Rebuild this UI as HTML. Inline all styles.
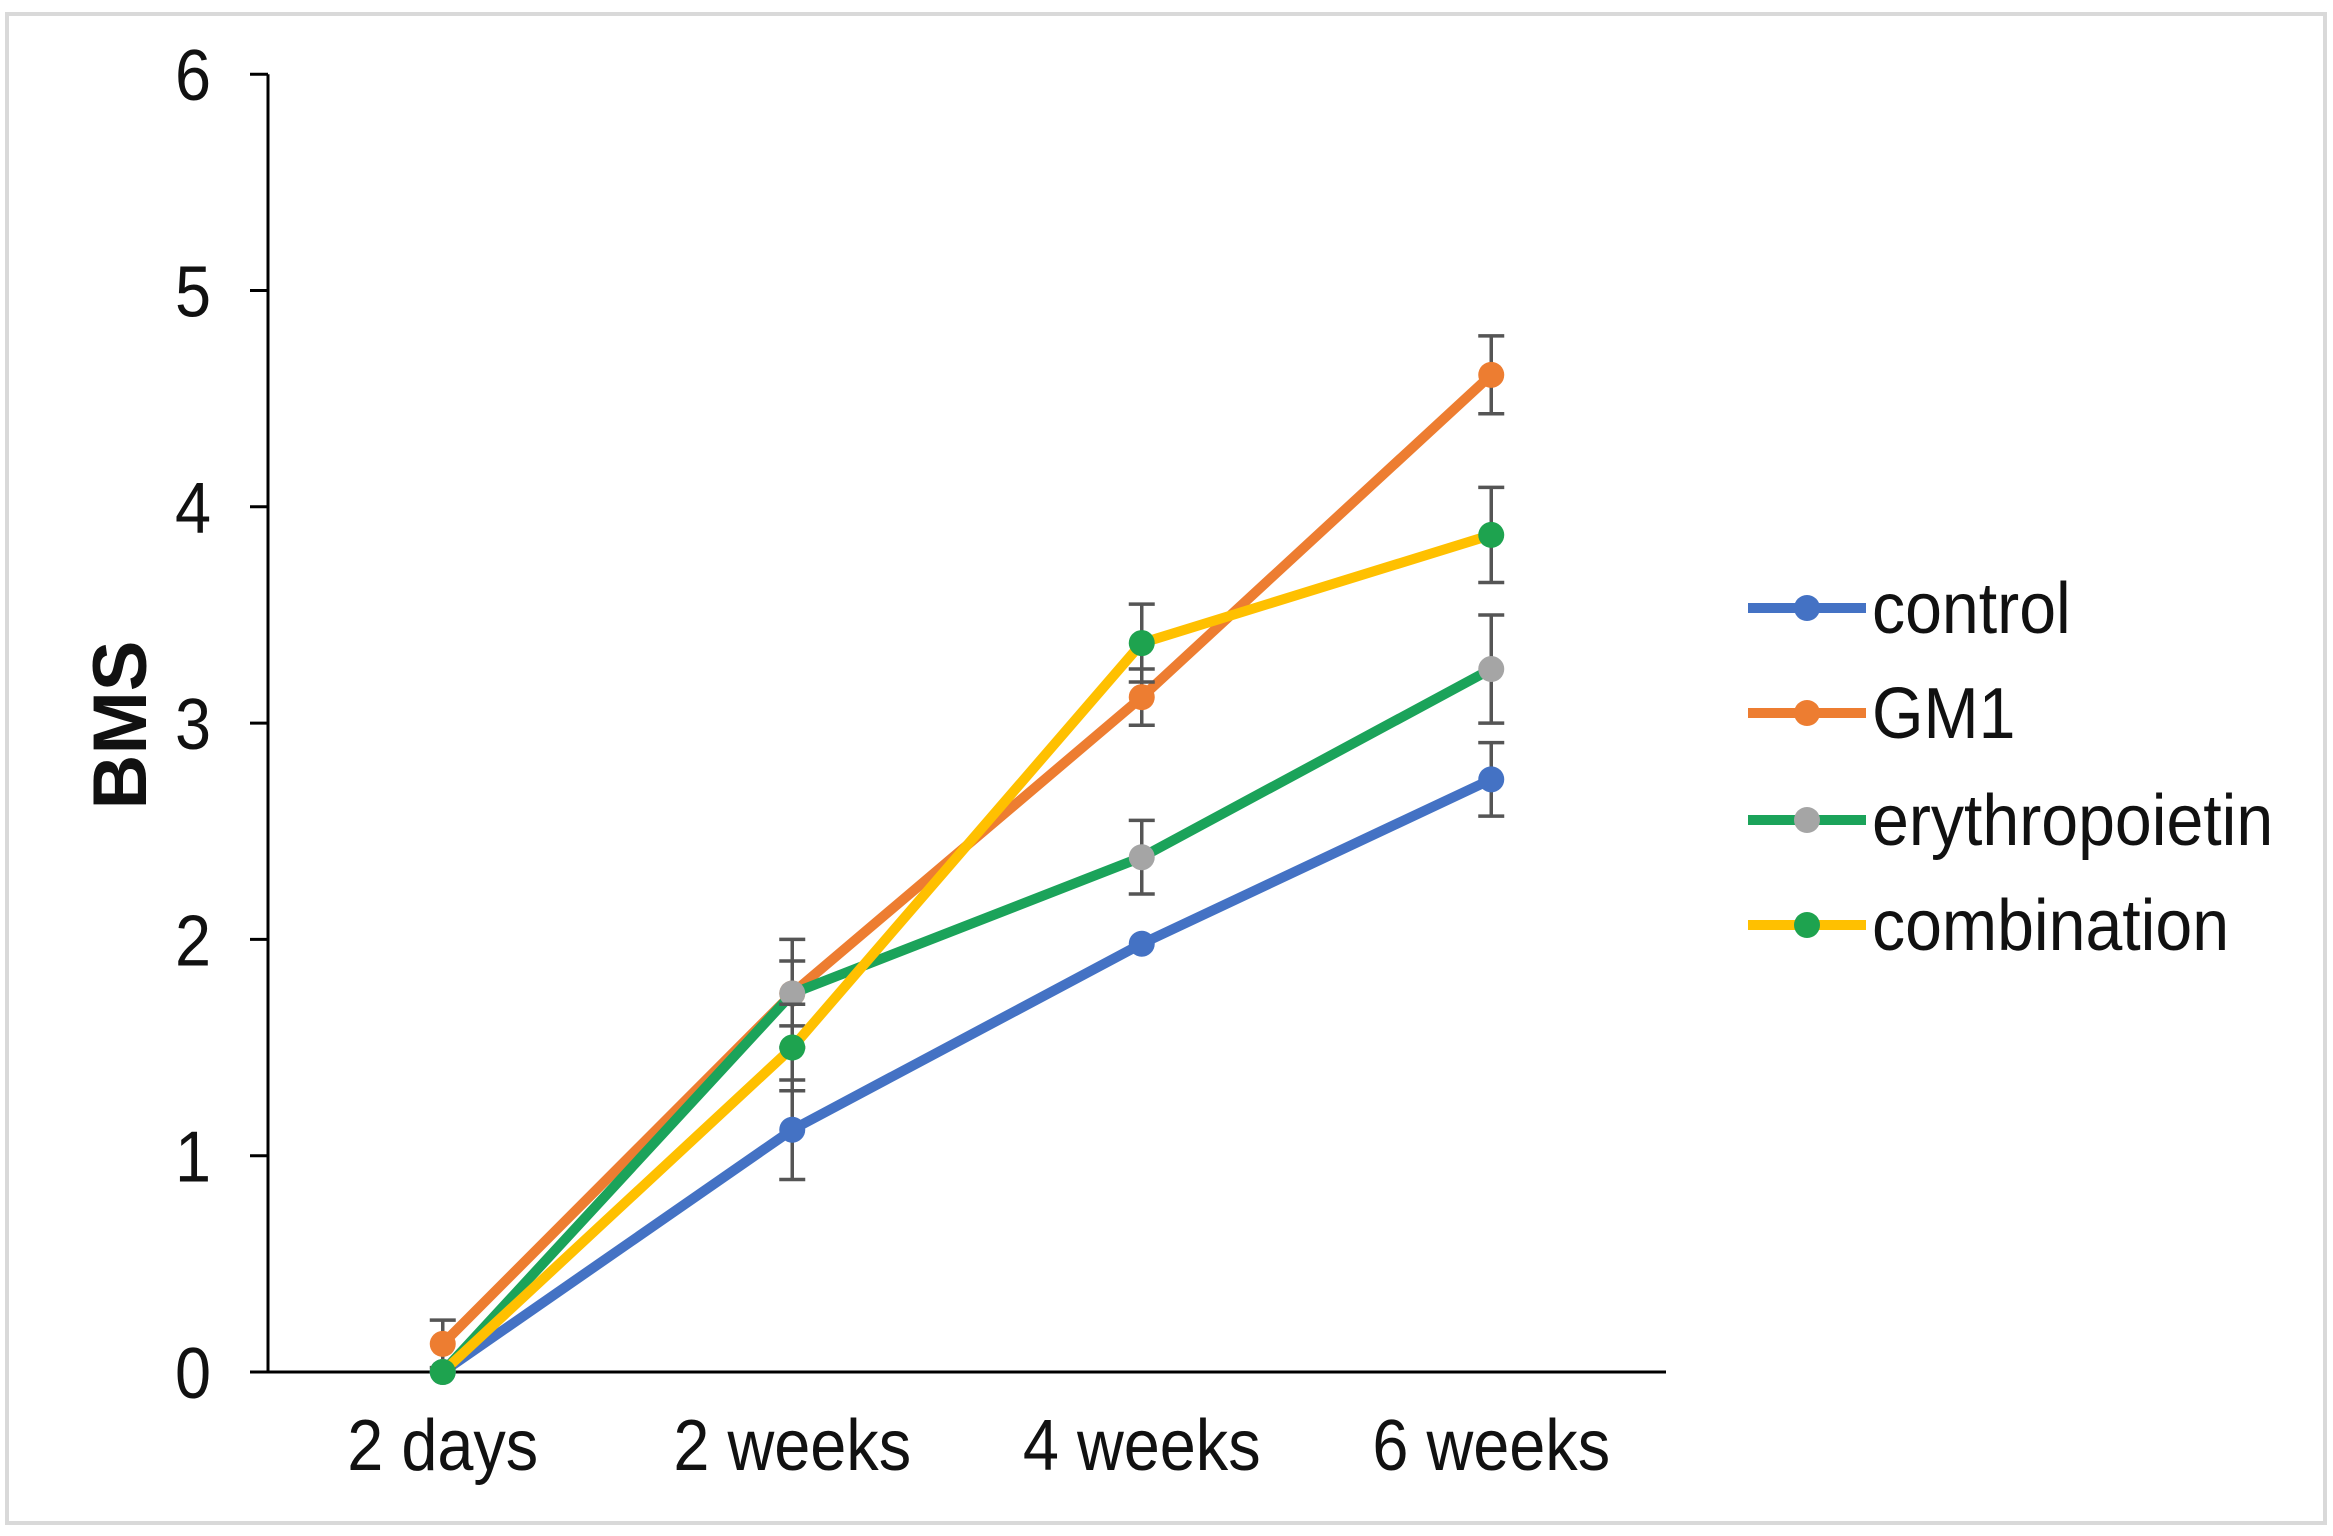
<!DOCTYPE html>
<html><head><meta charset="utf-8"><style>
html,body{margin:0;padding:0;background:#fff}
svg{display:block}
text{font-family:"Liberation Sans",Arial,sans-serif;fill:#111}
</style></head><body>
<svg id="chart" width="2333" height="1536" viewBox="0 0 2333 1536" xmlns="http://www.w3.org/2000/svg">
<rect x="7" y="14" width="2318" height="1509" fill="#fff" stroke="#d9d9d9" stroke-width="4"/>
<g id="axes"></g>
<g id="series"></g>
<g id="legend"></g>
</svg>
<script>
const categories = ["2 days","2 weeks","4 weeks","6 weeks"];
const seriesNames = ["control","GM1","erythropoietin","combination"];
const controlVals = [0, 1.12, 1.98, 2.74];
const gm1Vals = [0.13, 1.75, 3.12, 4.61];
const epoVals = [0, 1.75, 2.38, 3.25];
const comboVals = [0, 1.5, 3.37, 3.87];
const controlErr = [0, 0.23, 0.05, 0.17];
const gm1Err = [0.11, 0.15, 0.13, 0.18];
const epoErr = [0, 0.25, 0.17, 0.25];
const comboErr = [0, 0.2, 0.18, 0.22];
const yTicks = [0,1,2,3,4,5,6];

const NS = "http://www.w3.org/2000/svg";
const X0 = 268, X1 = 1666, Y0 = 1372, UNIT = 216.3;
const band = (X1 - X0) / categories.length;
function xScale(i){ return X0 + band * (i + 0.5); }
function yScale(v){ return Y0 - v * UNIT; }
function mk(tag, attrs, parent){
  const e = document.createElementNS(NS, tag);
  for (const k in attrs) e.setAttribute(k, attrs[k]);
  parent.appendChild(e);
  return e;
}
const axes = document.getElementById('axes');
const yAxis = mk('line',{x1:X0,y1:yScale(6),x2:X0,y2:Y0,stroke:'#000','stroke-width':3},axes);


const xAxis = mk('line',{x1:X0-18,y1:Y0,x2:X1,y2:Y0,stroke:'#000','stroke-width':3},axes);


yTicks.forEach(t=>{
  const tk = mk('line',{x1:X0-18,y1:yScale(t),x2:X0,y2:yScale(t),stroke:'#000','stroke-width':3},axes);
  
  
  const lb = mk('text',{x:0,y:0,'font-size':72,'text-anchor':'end',transform:`translate(211 ${yScale(t)+26}) scale(0.9 1)`},axes);
  lb.textContent = t;
  
  
});
categories.forEach((c,i)=>{
  const lb = mk('text',{x:0,y:0,'font-size':72,'text-anchor':'middle',transform:`translate(${xScale(i)} 1470) scale(0.9 1)`},axes);
  lb.textContent = c;
  
  
});
const yt = mk('text',{x:0,y:0,'font-size':76,'font-weight':'bold','text-anchor':'middle',transform:'translate(146 725) rotate(-90)'},axes);
yt.textContent = 'BMS';



const seriesDefs = [
  {vals:controlVals, err:controlErr, line:'#4472C4', marker:'#4472C4'},
  {vals:gm1Vals, err:gm1Err, line:'#ED7D31', marker:'#ED7D31'},
  {vals:epoVals, err:epoErr, line:'#1BA35A', marker:'#A5A5A5'},
  {vals:comboVals, err:comboErr, line:'#FFC000', marker:'#1EA34F'}
];
const sg = document.getElementById('series');
seriesDefs.forEach((s,si)=>{
  const g = mk('g',{},sg);
  
  
  const pts = s.vals.map((v,i)=>xScale(i)+','+yScale(v)).join(' ');
  const pl = mk('polyline',{points:pts,fill:'none',stroke:s.line,'stroke-width':10,'stroke-linejoin':'round'},g);
  
  
  s.vals.forEach((v,i)=>{
    if (s.err[i] > 0.06){
      const x = xScale(i), a = yScale(v+s.err[i]), b = yScale(v-s.err[i]);
      const eb = mk('path',{d:`M${x},${a}V${b}M${x-13},${a}H${x+13}M${x-13},${b}H${x+13}`,stroke:'#555','stroke-width':3.5,fill:'none'},g);
      
      
    }
  });
  s.vals.forEach((v,i)=>{
    const c = mk('circle',{cx:xScale(i),cy:yScale(v),r:13,fill:s.marker},g);
    
    
  });
});

const lg = document.getElementById('legend');
const legY = [608, 713, 820, 925];
seriesDefs.forEach((s,si)=>{
  const g = mk('g',{},lg);
  
  
  mk('line',{x1:1748,y1:legY[si],x2:1866,y2:legY[si],stroke:s.line,'stroke-width':10},g);
  mk('circle',{cx:1807,cy:legY[si],r:13,fill:s.marker},g);
  const t = mk('text',{x:0,y:0,'font-size':72,transform:`translate(1872 ${legY[si]+25}) scale(0.92 1)`},g);
  t.textContent = seriesNames[si];
});
</script>
</body></html>
